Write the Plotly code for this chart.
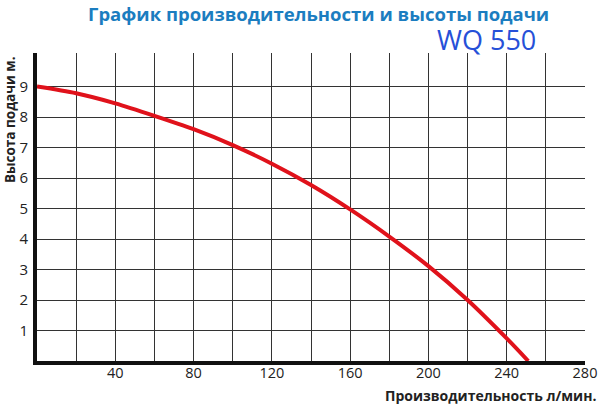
import plotly.graph_objects as go

flow = [0, 20, 40, 60, 80, 100, 120, 140, 160, 180, 200, 220, 240, 251]
head = [9.0, 8.78, 8.45, 8.04, 7.6, 7.08, 6.47, 5.77, 4.97, 4.08, 3.11, 2.0, 0.74, 0.0]

x_tickvals = list(range(0, 281, 20))
x_ticktext = [str(v) if (v % 40 == 0 and v > 0) else "" for v in x_tickvals]
y_tickvals = list(range(1, 10))
y_ticktext = [str(v) for v in y_tickvals]

title_text = "График производительности и высоты подачи"
model_text = "WQ 550"
y_title = "Высота подачи м."
x_title = "Производительность л/мин."

FONT = "Open Sans"
L, R, T, B = 37, 15, 53, 43
W, H = 600, 404

fig = go.Figure()
fig.add_trace(go.Scatter(
    x=flow, y=head, mode="lines",
    line=dict(color="#e0121b", width=4, shape="spline", smoothing=0.8),
    hoverinfo="skip", showlegend=False,
))

pw = W - L - R
ph = H - T - B


def px(xp):
    return (xp - L) / pw


def py(yp):
    return (H - yp - B) / ph


fig.update_layout(
    width=W, height=H,
    margin=dict(l=L, r=R, t=T, b=B, autoexpand=False),
    paper_bgcolor="white", plot_bgcolor="white",
    font=dict(family=FONT, color="#222"),
    xaxis=dict(
        range=[0, 280], tickvals=x_tickvals, ticktext=x_ticktext,
        showgrid=True, gridcolor="#333", gridwidth=1,
        showline=True, linecolor="#111", linewidth=4,
        zeroline=False, ticks="", automargin=False, ticklabelstandoff=-4,
        tickfont=dict(size=14.5, color="#222", family=FONT),
    ),
    yaxis=dict(
        range=[0, 10.1], tickvals=y_tickvals, ticktext=y_ticktext,
        showgrid=True, gridcolor="#333", gridwidth=1,
        showline=True, linecolor="#111", linewidth=4,
        zeroline=False, ticks="", ticklabelstandoff=2, automargin=False,
        tickfont=dict(size=15, color="#222", family=FONT),
    ),
    annotations=[
        dict(text="<b>" + title_text + "</b>", x=px(318), y=py(14), xref="paper", yref="paper",
             showarrow=False, font=dict(size=18.5, color="#1b7dc0", family=FONT),
             xanchor="center", yanchor="middle"),
        dict(text=model_text, x=px(486), y=py(39), xref="paper", yref="paper",
             showarrow=False, font=dict(size=27, color="#2650d8", family=FONT),
             xanchor="center", yanchor="middle"),
        dict(text="<b>" + y_title + "</b>", x=px(10), y=py(120), xref="paper", yref="paper",
             showarrow=False, textangle=-90, font=dict(size=13.5, color="#222", family=FONT),
             xanchor="center", yanchor="middle"),
        dict(text="<b>" + x_title + "</b>", x=px(598), y=py(395), xref="paper", yref="paper",
             showarrow=False, font=dict(size=14, color="#222", family=FONT),
             xanchor="right", yanchor="middle"),
    ],
)

fig.write_html(
    "out.html",
    config={"displayModeBar": False},
    post_script="document.body.style.margin='0';document.body.style.overflow='hidden';",
)
